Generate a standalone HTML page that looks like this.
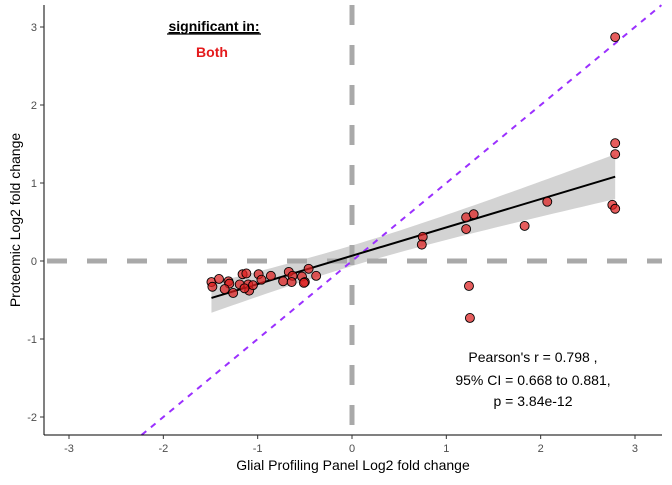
<!DOCTYPE html>
<html><head><meta charset="utf-8"><style>
body{margin:0;background:#fff}
svg text{font-family:"Liberation Sans",Arial,sans-serif}
</style></head><body>
<svg id="c" width="672" height="480" viewBox="0 0 672 480">
<text x="214" y="31" text-anchor="middle" font-size="14" font-weight="bold" text-decoration="underline">significant in:</text>
<line x1="167" y1="34" x2="261" y2="34" stroke="#000" stroke-width="1.2"/>
<text x="212" y="57" text-anchor="middle" font-size="14" font-weight="bold" fill="#e41a1c">Both</text>
<g id="plot"></g>
<text x="533" y="362" text-anchor="middle" font-size="14">Pearson's r = 0.798 ,</text>
<text x="533" y="385" text-anchor="middle" font-size="14">95% CI = 0.668 to 0.881,</text>
<text x="533" y="406" text-anchor="middle" font-size="14">p = 3.84e-12</text>
<text x="353" y="470" text-anchor="middle" font-size="14">Glial Profiling Panel Log2 fold change</text>
<text transform="translate(20,220) rotate(-90)" text-anchor="middle" font-size="14">Proteomic Log2 fold change</text>
</svg>
<script>
const xVals=[2.79,2.79,2.76,2.79,2.07,1.83,1.21,1.29,1.21,0.75,0.74,1.24,1.25,2.79,
-1.49,-1.41,-1.48,-1.31,-1.30,-1.35,-1.26,-1.19,-1.16,-1.12,-1.10,-1.09,-1.05,-0.99,-0.96,-0.86,-0.73,-0.67,-0.63,-0.64,-0.53,-0.50,-0.46,-0.38,-0.51,-1.14];
const yVals=[1.51,1.37,0.72,0.67,0.76,0.45,0.56,0.60,0.41,0.31,0.21,-0.32,-0.73,2.87,
-0.27,-0.23,-0.33,-0.26,-0.29,-0.36,-0.41,-0.30,-0.17,-0.16,-0.30,-0.38,-0.31,-0.17,-0.24,-0.19,-0.26,-0.14,-0.19,-0.27,-0.20,-0.27,-0.10,-0.19,-0.28,-0.35];
const xTicks=[-3,-2,-1,0,1,2,3];
const yTicks=[-2,-1,0,1,2,3];
const X=v=>352+v*94.33, Y=v=>261-v*78;
const NS="http://www.w3.org/2000/svg", g=document.getElementById('plot');
function mk(t,a){const e=document.createElementNS(NS,t);for(const k in a)e.setAttribute(k,a[k]);g.appendChild(e);return e;}
// linear fit + CI
const n=xVals.length,mx=xVals.reduce((a,b)=>a+b)/n,my=yVals.reduce((a,b)=>a+b)/n;
let sxx=0,sxy=0;for(let i=0;i<n;i++){sxx+=(xVals[i]-mx)**2;sxy+=(xVals[i]-mx)*(yVals[i]-my);}
const b=sxy/sxx,a=my-b*mx;let sse=0;for(let i=0;i<n;i++)sse+=(yVals[i]-a-b*xVals[i])**2;
const s=Math.sqrt(sse/(n-2)),t=2.02;
const x0=Math.min(...xVals),x1=Math.max(...xVals);
let up=[],lo=[];for(let k=0;k<=60;k++){const x=x0+(x1-x0)*k/60,f=a+b*x,se=s*Math.sqrt(1/n+(x-mx)**2/sxx);up.push(X(x)+','+Y(f+t*se));lo.unshift(X(x)+','+Y(f-t*se));}
let e=mk('polygon',{points:up.concat(lo).join(' '),fill:'#d3d3d3'});

e=mk('line',{x1:X(0),y1:5,x2:X(0),y2:435,stroke:'#a9a9a9','stroke-width':5,'stroke-dasharray':'20,20'});

e=mk('line',{x1:44,y1:Y(0),x2:662,y2:Y(0),stroke:'#a9a9a9','stroke-width':5,'stroke-dasharray':'20,20','stroke-dashoffset':-3});

e=mk('line',{x1:X(-2.23),y1:Y(-2.23),x2:X(3.28),y2:Y(3.28),stroke:'#9b30ff','stroke-width':2,'stroke-dasharray':'6,6'});

e=mk('line',{x1:X(x0),y1:Y(a+b*x0),x2:X(x1),y2:Y(a+b*x1),stroke:'#000','stroke-width':2});

for(let i=0;i<n;i++){e=mk('circle',{cx:X(xVals[i]),cy:Y(yVals[i]),r:4.5,fill:'rgba(220,30,30,0.72)',stroke:'#000','stroke-width':0.9});
}
e=mk('line',{x1:44,y1:5,x2:44,y2:435,stroke:'#000','stroke-width':1});

e=mk('line',{x1:44,y1:435,x2:662,y2:435,stroke:'#000','stroke-width':1});

xTicks.forEach(v=>{mk('line',{x1:X(v),y1:435,x2:X(v),y2:439,stroke:'#333'});
e=mk('text',{x:X(v),y:452,'text-anchor':'middle','font-size':11,fill:'#4d4d4d'});e.textContent=v;
});
yTicks.forEach(v=>{mk('line',{x1:40,y1:Y(v),x2:44,y2:Y(v),stroke:'#333'});
e=mk('text',{x:37,y:Y(v)+4,'text-anchor':'end','font-size':11,fill:'#4d4d4d'});e.textContent=v;
});
</script>
</body></html>
